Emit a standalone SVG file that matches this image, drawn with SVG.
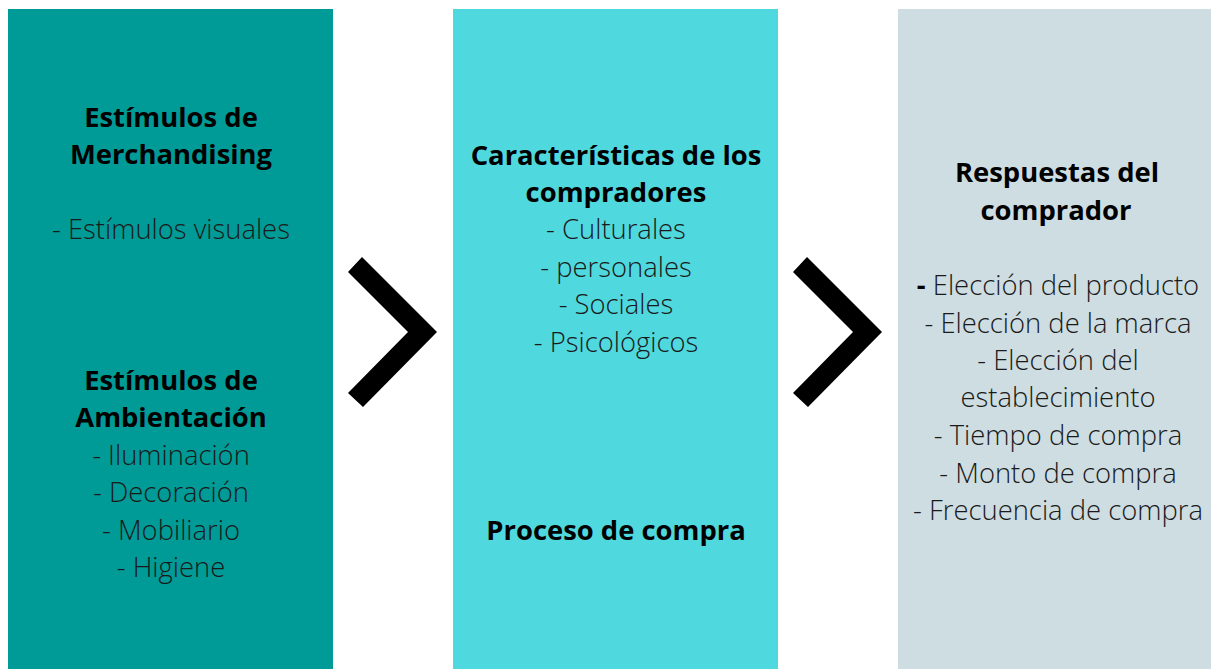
<svg xmlns="http://www.w3.org/2000/svg" width="1211" height="669" viewBox="0 0 1211 669">
<style>
text{font-family:"Open Sans","Noto Sans","Liberation Sans",sans-serif;font-size:27.4px;fill:#1a1a1a;text-anchor:middle}
.b{font-weight:700;fill:#000}
.l{font-weight:300}
.chev{fill:#000}
</style>
<rect width="1211" height="669" fill="#fff"/>
<g id="col1">
<rect x="8" y="9" width="325" height="660" fill="#009a97"/>
<text class="b" x="171" y="127">Estímulos de</text>
<text class="b" x="171" y="164">Merchandising</text>
<text class="l" x="171" y="239">- Estímulos visuales</text>
<text class="b" x="171" y="390">Estímulos de</text>
<text class="b" x="171" y="427">Ambientación</text>
<text class="l" x="171" y="465">- Iluminación</text>
<text class="l" x="171" y="502">- Decoración</text>
<text class="l" x="171" y="540">- Mobiliario</text>
<text class="l" x="171" y="577">- Higiene</text>
</g>
<g id="col2">
<rect x="453" y="9" width="325" height="660" fill="#4fd8dd"/>
<text class="b" x="616" y="165">Características de los</text>
<text class="b" x="616" y="202">compradores</text>
<text class="l" x="616" y="239">- Culturales</text>
<text class="l" x="616" y="277">- personales</text>
<text class="l" x="616" y="314">- Sociales</text>
<text class="l" x="616" y="352">- Psicológicos</text>
<text class="b" x="616" y="540">Proceso de compra</text>
</g>
<g id="col3">
<rect x="898" y="9" width="313" height="660" fill="#cddde1"/>
<text class="b" x="1057" y="182">Respuestas del</text>
<text class="b" x="1056" y="220">comprador</text>
<text class="l" x="1058" y="295"><tspan class="b">-</tspan> Elección del producto</text>
<text class="l" x="1058" y="333">- Elección de la marca</text>
<text class="l" x="1058" y="370">- Elección del</text>
<text class="l" x="1058" y="407">establecimiento</text>
<text class="l" x="1058" y="445">- Tiempo de compra</text>
<text class="l" x="1058" y="483">- Monto de compra</text>
<text class="l" x="1058" y="520">- Frecuencia de compra</text>
</g>
<g id="connectors">
<polygon class="chev" points="362,257 437,332 363,407 348,393 408,332 348,272"/>
<polygon class="chev" points="807,257 882,332 808,407 793,393 853,332 793,272"/>
</g>
</svg>
